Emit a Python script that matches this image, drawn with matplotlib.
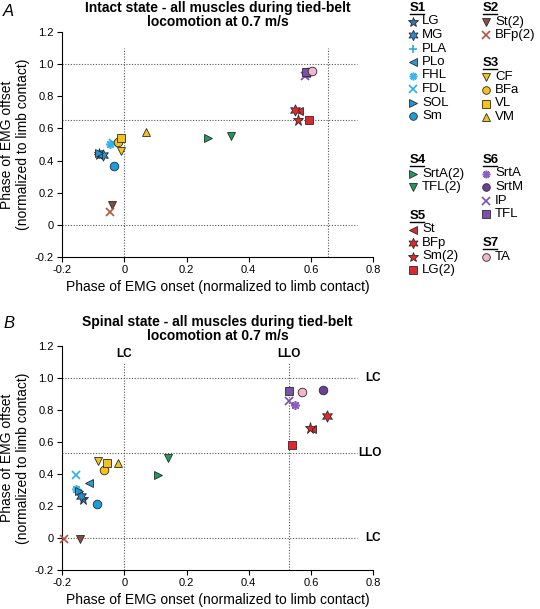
import matplotlib.pyplot as plt

plt.rcParams['font.family'] = ['Liberation Sans', 'DejaVu Sans']

# Muscles, in legend order (S1..S7)
muscles = ['LG', 'MG', 'PLA', 'PLo', 'FHL', 'FDL', 'SOL', 'Sm',
           'St(2)', 'BFp(2)',
           'CF', 'BFa', 'VL', 'VM',
           'SrtA(2)', 'TFL(2)',
           'St', 'BFp', 'Sm(2)', 'LG(2)',
           'SrtA', 'SrtM', 'IP', 'TFL',
           'TA']
groups = ['S1'] * 8 + ['S2'] * 2 + ['S3'] * 4 + ['S4'] * 2 + ['S5'] * 4 + ['S6'] * 4 + ['S7']

# Phase of EMG onset / offset (normalized to limb contact)
intact_onset = [-0.08, -0.07, -0.075, -0.085, -0.045, -0.035, -0.08, -0.032,
                -0.04, -0.046,
                -0.01, -0.02, -0.012, 0.07,
                0.27, 0.344,
                0.561, 0.548, 0.559, 0.593,
                0.586, 0.592, 0.58, 0.585,
                0.605]
intact_offset = [0.44, 0.435, 0.44, 0.44, 0.50, 0.51, 0.445, 0.367,
                 0.125, 0.077,
                 0.46, 0.515, 0.54, 0.578,
                 0.54, 0.55,
                 0.71, 0.715, 0.655, 0.655,
                 0.94, 0.948, 0.925, 0.95,
                 0.958]
spinal_onset = [-0.134, -0.138, -0.15, -0.112, -0.155, -0.155, -0.145, -0.087,
                -0.144, -0.195,
                -0.085, -0.065, -0.057, -0.02,
                0.108, 0.141,
                0.603, 0.652, 0.598, 0.54,
                0.55, 0.64, 0.529, 0.53,
                0.57]
spinal_offset = [0.245, 0.26, 0.30, 0.345, 0.305, 0.39, 0.29, 0.21,
                 -0.005, -0.005,
                 0.478, 0.424, 0.466, 0.466,
                 0.393, 0.497,
                 0.678, 0.76, 0.685, 0.58,
                 0.83, 0.922, 0.857, 0.915,
                 0.911]

# Reference phases (limb contact, limb lift-off)
intact_lc, intact_llo = 0.0, 0.655
spinal_lc, spinal_llo = 0.0, 0.53

# Marker styles
asterisk = (8, 2, 0)
hexstar = (6, 1, 0)
markers = ['*', hexstar, '+', '<', asterisk, 'x', '>', 'o',
           'v', 'x',
           'v', 'o', 's', '^',
           '>', 'v',
           '<', hexstar, '*', 's',
           asterisk, 'o', 'x', 's',
           'o']
colors = ['#2a78b6', '#2a8acb', '#29aee6', '#2a9ad6', '#3cb6ee', '#2ab0ea', '#1f95d3', '#1b9cdb',
          '#8a4a3a', '#b4553e',
          '#f5c21b', '#f5c21b', '#f5c21b', '#f5c21b',
          '#1f9a5a', '#1f9a5a',
          '#e0262f', '#e0262f', '#e0262f', '#e0262f',
          '#8b5cc4', '#6b3f9c', '#7b50b6', '#7b52ab',
          '#f3b5c9']
line_markers = ['+', 'x', asterisk]


def draw_marker(ax, x, y, m, c, ms=6.2, **kw):
    if m in line_markers:
        ax.plot(x, y, linestyle='none', marker=m, markersize=ms,
                color=c, markeredgewidth=1.2, **kw)
    else:
        size = ms + 2 if m in ('*', hexstar) else ms
        ax.plot(x, y, linestyle='none', marker=m, markersize=size,
                markerfacecolor=c, markeredgecolor='#2b2b2b',
                markeredgewidth=0.6, **kw)


def setup_axes(ax, title):
    ax.set_xlim(-0.2, 0.8)
    ax.set_ylim(-0.2, 1.2)
    ax.spines['top'].set_visible(False)
    ax.spines['right'].set_visible(False)
    ax.spines['left'].set_linewidth(0.8)
    ax.spines['bottom'].set_linewidth(0.8)
    ax.tick_params(direction='out', length=3.6, width=0.8, labelsize=8, pad=2.5)
    ax.set_xticks([-0.2, 0, 0.2, 0.4, 0.6, 0.8])
    ax.set_xticklabels(['-0.2', '0', '0.2', '0.4', '0.6', '0.8'])
    ax.set_yticks([-0.2, 0, 0.2, 0.4, 0.6, 0.8, 1.0, 1.2])
    ax.set_yticklabels(['-0.2', '0', '0.2', '0.4', '0.6', '0.8', '1.0', '1.2'])
    ax.set_xlabel('Phase of EMG onset (normalized to limb contact)', fontsize=10, labelpad=3)
    ax.set_ylabel('Phase of EMG offset\n(normalized to limb contact)', fontsize=10,
                  labelpad=3, linespacing=1.25)
    ax.set_title(title, fontsize=10, fontweight='bold', pad=4, linespacing=1.05)


def ref_lines(ax, lc, llo):
    dot = dict(color='#555555', linestyle=(0, (1, 1.5)), linewidth=0.8, zorder=1)
    for yv in [lc, llo, lc + 1.0]:
        ax.plot([-0.2, 0.748], [yv, yv], **dot)
    for xv in [lc, llo]:
        ax.plot([xv, xv], [-0.2, 1.1], **dot)


fig = plt.figure(figsize=(5.4, 6.09), dpi=100)

# Panel A - intact
axA = fig.add_axes([0.115, 0.578, 0.576, 0.3695])
setup_axes(axA, 'Intact state - all muscles during tied-belt\nlocomotion at 0.7 m/s')
ref_lines(axA, intact_lc, intact_llo)
for i in range(len(muscles)):
    draw_marker(axA, intact_onset[i], intact_offset[i], markers[i], colors[i], zorder=3)

# Panel B - spinal
axB = fig.add_axes([0.115, 0.064, 0.576, 0.3685])
setup_axes(axB, 'Spinal state - all muscles during tied-belt\nlocomotion at 0.7 m/s')
ref_lines(axB, spinal_lc, spinal_llo)
for i in range(len(muscles)):
    draw_marker(axB, spinal_onset[i], spinal_offset[i], markers[i], colors[i],
                zorder=3, clip_on=False)
lab = dict(fontsize=8.5, fontweight='bold', ha='center', va='center')
axB.text(spinal_lc, 1.147, 'LC', **lab)
axB.text(spinal_llo, 1.147, 'LLO', **lab)
axB.text(0.80, spinal_lc + 1.0, 'LC', clip_on=False, **lab)
axB.text(0.79, spinal_llo, 'LLO', clip_on=False, **lab)
axB.text(0.80, spinal_lc, 'LC', clip_on=False, **lab)

fig.text(0.006, 0.993, 'A', fontsize=12, fontstyle='italic', va='top')
fig.text(0.006, 0.481, 'B', fontsize=12, fontstyle='italic', va='top')

# Legend (drawn in pixel space)
lax = fig.add_axes([380 / 540, 0, 160 / 540, 1])
lax.set_xlim(380, 540)
lax.set_ylim(609, 0)
lax.axis('off')
lax.patch.set_alpha(0)

# column x (marker), header y for each group
group_pos = {'S1': (413, 8), 'S2': (486, 8), 'S3': (486, 63),
             'S4': (413, 160), 'S5': (413, 216), 'S6': (486, 160), 'S7': (486, 243)}
row_step = 13.5
for g, (gx, gy) in group_pos.items():
    lax.text(gx - 3, gy, g, fontsize=9.5, fontweight='bold', ha='left', va='center')
    lax.plot([gx - 3, gx + 11], [gy + 6, gy + 6], color='black', linewidth=1.0)
    idx = [i for i in range(len(muscles)) if groups[i] == g]
    for k, i in enumerate(idx):
        yy = gy + row_step * (k + 1)
        draw_marker(lax, gx, yy, markers[i], colors[i], ms=5.5)
        lax.text(gx + 9, yy, muscles[i], fontsize=9.5, ha='left', va='center')

fig.savefig('out.png', dpi=100)
